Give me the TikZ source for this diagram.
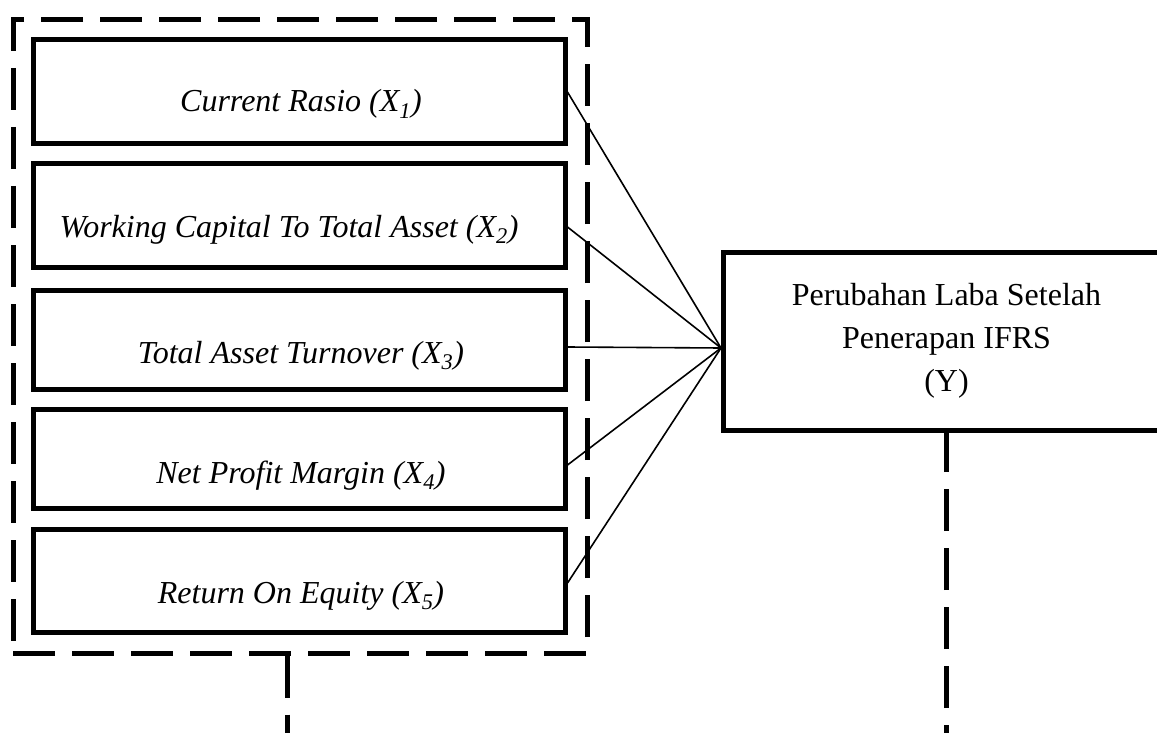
\documentclass[tikz,border=0pt]{standalone}
\usepackage{fontspec}
\setmainfont{Liberation Serif}

\begin{document}
\begin{tikzpicture}[x=1pt,y=-1pt,
    every node/.style={font=\fontsize{32}{43}\selectfont},
    varbox/.style={draw, line width=5pt, minimum width=531.5pt, inner sep=0pt},
    lbl/.style={anchor=base, font=\fontsize{32}{43}\selectfont\itshape},
    fan/.style={line width=1.6pt},
    grpline/.style={line width=5pt, dash pattern=on 42pt off 17pt}]
    \useasboundingbox (0,0) rectangle (1157,733);
    % group of X variables
    \node[draw, grpline, minimum width=574pt, minimum height=633pt, inner sep=0pt] (grp) at (300,336.5) {};
    \node[varbox, minimum height=104pt] (b1) at (299.25,92) {};
    \node[varbox, minimum height=103pt] (b2) at (299.25,215.5) {};
    \node[varbox, minimum height=99pt] (b3) at (299.25,339.5) {};
    \node[varbox, minimum height=99pt] (b4) at (299.25,458.5) {};
    \node[varbox, minimum height=103pt] (b5) at (299.25,580.5) {};
    \node[lbl] (t1) at (301,112) {Current Rasio (X\textsubscript{1})};
    \node[lbl] (t2) at (289,237) {Working Capital To Total Asset (X\textsubscript{2})};
    \node[lbl] (t3) at (301,363) {Total Asset Turnover (X\textsubscript{3})};
    \node[lbl] (t4) at (301,483) {Net Profit Margin (X\textsubscript{4})};
    \node[lbl] (t5) at (301,603) {Return On Equity (X\textsubscript{5})};
    % Y variable
    \node[draw, line width=5pt, minimum width=446pt, minimum height=178pt, inner sep=0pt, align=center] (yvar) at (946.5,341)
        {Perubahan Laba Setelah\\Penerapan IFRS\\(Y)};
    \coordinate (hub) at ([yshift=-7pt]yvar.west);
    \draw[fan] (b1.east) -- (hub);
    \draw[fan] ([yshift=-11.5pt]b2.east) -- (hub);
    \draw[fan] ([yshift=-7.5pt]b3.east) -- (hub);
    \draw[fan] ([yshift=-6.5pt]b4.east) -- (hub);
    \draw[fan] ([yshift=-2.5pt]b5.east) -- (hub);
    \draw[grpline] ([xshift=-13pt]grp.south) -- ++(0,80) -| (yvar.south);
\end{tikzpicture}
\end{document}
